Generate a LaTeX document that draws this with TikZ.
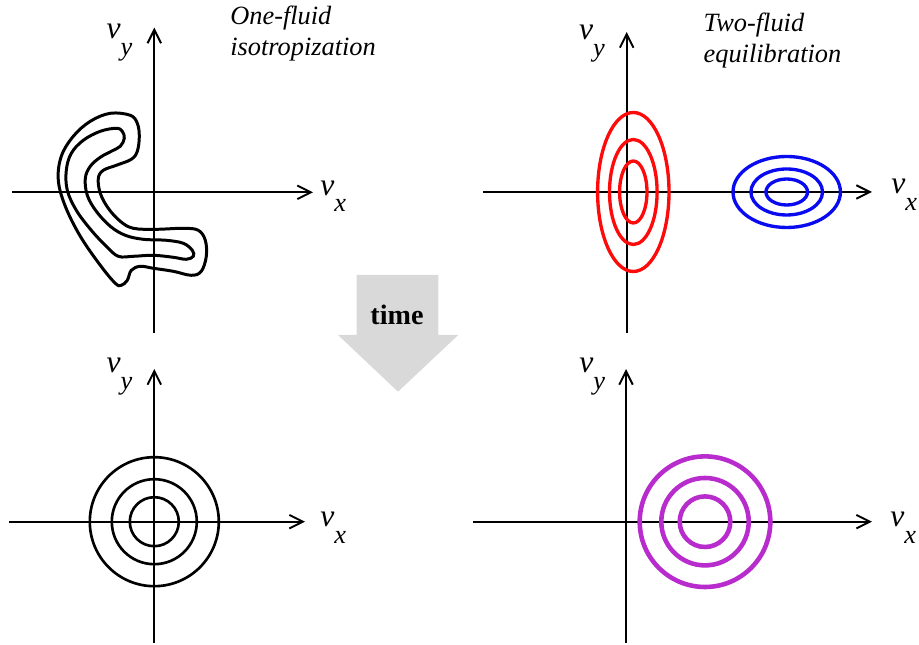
\documentclass[tikz,border=0pt]{standalone}
\usepackage{fontspec}
\setmainfont{Liberation Serif}[ItalicFont={Liberation Serif Italic},BoldFont={Liberation Serif Bold}]
\usetikzlibrary{arrows.meta,positioning}
\definecolor{RingRed}{HTML}{FF0A0A}
\definecolor{RingBlue}{HTML}{0A0AF0}
\definecolor{RingPurple}{HTML}{B82BCC}
\definecolor{TimeGray}{HTML}{D9D9D9}
\tikzset{
  axisline/.style={-{Straight Barb[length=2.7mm,width=2.7mm]},line width=1.1pt},
  vlabel/.style={font=\fontsize{18}{18}\selectfont,inner sep=0pt,anchor=base west},
  paneltitle/.style={font=\fontsize{15}{17.5}\selectfont\itshape,align=left,inner sep=0pt,anchor=north west},
  contour/.style={line width=1.7pt},
  blackring/.style={draw=black,line width=1.5pt},
  redring/.style={draw=RingRed,line width=1.9pt},
  bluering/.style={draw=RingBlue,line width=1.9pt},
  purplering/.style={draw=RingPurple,line width=2.6pt}
}
\newcommand{\velo}[1]{\textit{v}\raisebox{-9.5pt}{\fontsize{15}{15}\selectfont\textit{#1}}}
\newcommand{\velplane}[7]{%
  \begin{scope}[shift={(#2,#3)}]
    \coordinate (#1-o) at (0,0);
    \coordinate (#1-w) at (-#4,0);
    \coordinate (#1-e) at (#5,0);
    \coordinate (#1-s) at (0,-#6);
    \coordinate (#1-n) at (0,#7);
    \draw[axisline] (#1-w) -- (#1-e);
    \draw[axisline] (#1-s) -- (#1-n);
  \end{scope}%
}

\begin{document}
\begin{tikzpicture}[x=0.02cm,y=0.02cm]
  \useasboundingbox (0,0) rectangle (919,645);
  \velplane{tl}{154.3}{452.7}{142.3}{158.7}{140.7}{164.7}
  \velplane{tr}{626.7}{453}{143.7}{245.3}{141}{160}
  \velplane{bl}{154.3}{123.3}{145.3}{150.7}{121.3}{152.7}
  \velplane{br}{626}{123.3}{153}{246}{121.3}{152.7}

  \node[vlabel] (tl-vy) at ([shift={(-48,-11)}]tl-n) {\velo{y}};
  \node[vlabel] (tr-vy) at ([shift={(-48,-8)}]tr-n) {\velo{y}};
  \node[vlabel] (bl-vy) at ([shift={(-48,-4)}]bl-n) {\velo{y}};
  \node[vlabel] (br-vy) at ([shift={(-47,-4)}]br-n) {\velo{y}};
  \node[vlabel] (tl-vx) at ([shift={(7,-3)}]tl-e) {\velo{x}};
  \node[vlabel] (tr-vx) at ([shift={(19,-2)}]tr-e) {\velo{x}};
  \node[vlabel] (bl-vx) at ([shift={(15,-5)}]bl-e) {\velo{x}};
  \node[vlabel] (br-vx) at ([shift={(18,-5)}]br-e) {\velo{x}};

  \node[paneltitle] (tl-title) at (230,639) {One-fluid\\isotropization};
  \node[paneltitle] (tr-title) at (703.3,632) {Two-fluid\\equilibration};

  \begin{scope}[shift={(tl-o)}]
    \draw[contour] plot[smooth cycle,tension=0.6] coordinates {
      (-44,79) (-24,77) (-17,69) (-15,56) (-17,41) (-23,33) (-38,27) (-51,22)
      (-56,14) (-54,-1) (-46,-16) (-34,-29) (-21,-36) (2,-37) (29,-36) (44,-38)
      (51,-48) (52,-64) (47,-79) (37,-83) (19,-79) (-1,-76) (-14,-74) (-23,-78)
      (-27,-88) (-33,-93) (-39,-91) (-54,-73) (-74,-44) (-89,-14) (-96,12)
      (-93,36) (-81,56) (-64,71)};
    \draw[contour] plot[smooth cycle,tension=0.6] coordinates {
      (-38,64) (-32,61) (-30,54) (-34,46) (-43,41) (-54,35) (-64,26) (-69,14)
      (-67,-3) (-58,-19) (-44,-34) (-29,-43) (-11,-47) (12,-48) (29,-51)
      (38,-58) (39,-64) (32,-67) (19,-65) (-1,-63) (-21,-64) (-36,-64)
      (-48,-54) (-63,-38) (-78,-18) (-87,2) (-88,22) (-83,39) (-71,52) (-54,61)};
  \end{scope}

  \foreach \rx/\ry in {13.7/31,23.8/52.5,35.7/79.5}
    \draw[redring] ([shift={(6.6,0)}]tr-o) ellipse [x radius=\rx,y radius=\ry];
  \foreach \rx/\ry in {20.8/13,35.8/23,53.7/35.5}
    \draw[bluering] ([shift={(160,0)}]tr-o) ellipse [x radius=\rx,y radius=\ry];
  \foreach \r in {24.5,42.5,64.5}
    \draw[blackring] (bl-o) circle [radius=\r];
  \foreach \r in {25.3,43.7,65.3}
    \draw[purplering] ([shift={(79,0)}]br-o) circle [radius=\r];

  \fill[TimeGray] (356.7,370) -- (438.3,370) -- (438.3,310) -- (458.3,310)
    -- (398,253.3) -- (338,310) -- (356.7,310) -- cycle;
  \node[font=\fontsize{16}{16}\selectfont\bfseries] (timelabel) at (397,330) {time};
\end{tikzpicture}
\end{document}
